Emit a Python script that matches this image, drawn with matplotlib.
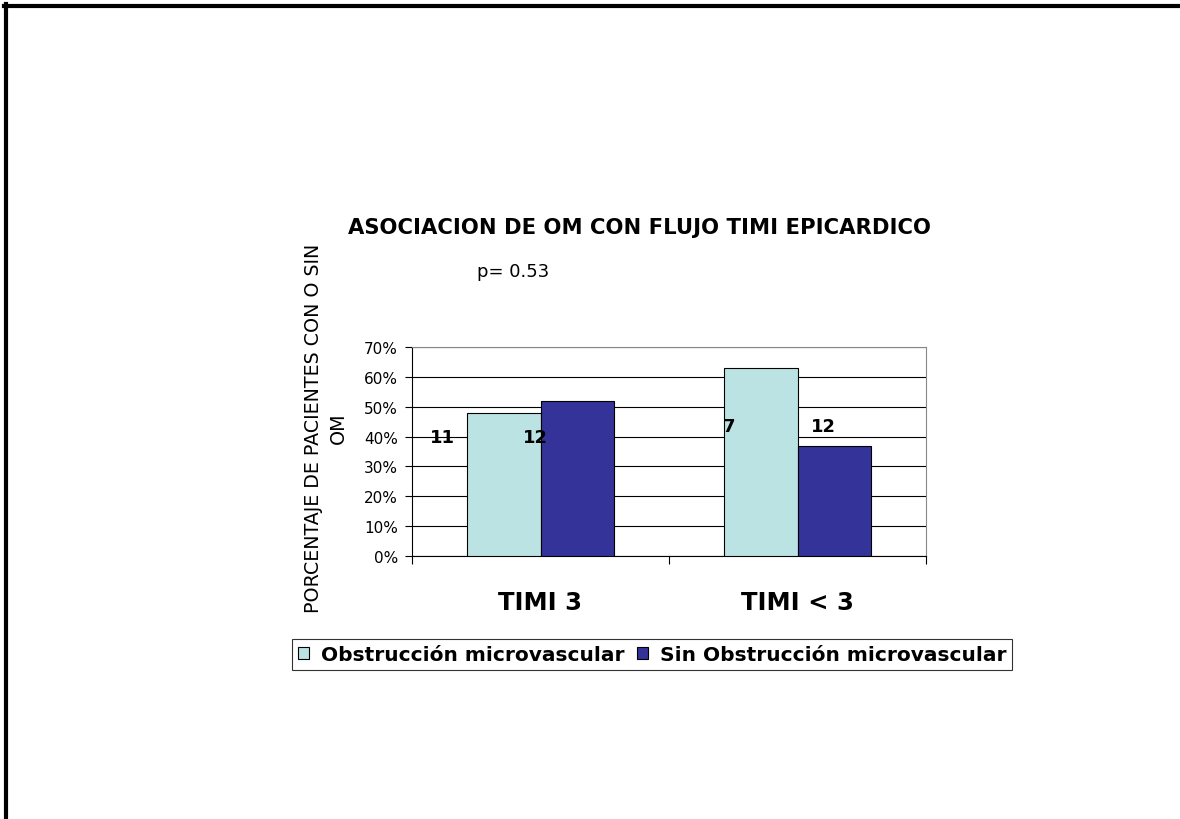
import matplotlib
matplotlib.use("Agg")
import matplotlib.pyplot as plt
from matplotlib.lines import Line2D
from matplotlib.patches import Patch
import numpy as np

plt.rcParams['font.family'] = ['DejaVu Sans']

categories = ["TIMI 3", "TIMI < 3"]
series_names = ["Obstrucción microvascular", "Sin Obstrucción microvascular"]
om_pct = [48, 63]
sin_om_pct = [52, 37]
om_counts = ["11", "7"]
sin_om_counts = ["12", "12"]
yticks = [0, 10, 20, 30, 40, 50, 60, 70]

light = "#BBE3E3"
dark = "#333399"

W, H = 1180, 820
fig = plt.figure(figsize=(W / 100, H / 100), dpi=100, facecolor="white")


def fx(px):
    return px / W


def fy(py):
    return 1 - py / H


# page border (top and left only, rest is cropped)
fig.add_artist(Line2D([fx(4), fx(1180)], [fy(7), fy(7)], color="black", lw=3.0))
fig.add_artist(Line2D([fx(6), fx(6)], [fy(5), fy(820)], color="black", lw=3.0))

ax = fig.add_axes([fx(412), fy(557), fx(926) - fx(412), fy(348) - fy(557)])

x = np.arange(len(categories))
bw = 1 / 3.5
ax.bar(x - bw / 2, om_pct, bw, color=light, edgecolor="black", linewidth=0.8, zorder=3)
ax.bar(x + bw / 2, sin_om_pct, bw, color=dark, edgecolor="black", linewidth=0.8, zorder=3)

ax.set_xlim(-0.5, 1.5)
ax.set_ylim(0, 70)
ax.set_yticks(yticks)
ax.set_yticklabels([f"{v}%" for v in yticks], fontsize=11)
ax.yaxis.grid(True, color="black", linewidth=0.8, zorder=0)
ax.tick_params(axis="y", direction="out", length=5, width=0.8, pad=5)

ax.set_xticks([-0.5, 0.5, 1.5])
ax.set_xticklabels([])
ax.tick_params(axis="x", direction="out", length=6, width=0.8)
for i, c in enumerate(categories):
    ax.text(x[i], -15.5, c, ha="center", va="center", fontsize=17.5, fontweight="bold")

for s in ["top", "right"]:
    ax.spines[s].set_visible(True)
    ax.spines[s].set_color("#888888")
    ax.spines[s].set_linewidth(0.8)
ax.spines["left"].set_linewidth(0.8)
ax.spines["bottom"].set_linewidth(0.8)

# data labels (placed as in the original)
ax.text(x[0] - bw / 2 - 0.24, 40, om_counts[0], ha="center", va="center", fontsize=13, fontweight="bold", zorder=5)
ax.text(x[0] - 0.02, 40, sin_om_counts[0], ha="center", va="center", fontsize=13, fontweight="bold", zorder=5)
ax.text(x[1] - bw + 0.02, 43.5, om_counts[1], ha="center", va="center", fontsize=13, fontweight="bold", zorder=5)
ax.text(x[1] + 0.1, 43.5, sin_om_counts[1], ha="center", va="center", fontsize=13, fontweight="bold", zorder=5)

fig.text(fx(640), fy(228), "ASOCIACION DE OM CON FLUJO TIMI EPICARDICO", ha="center", va="center",
         fontsize=15.2, fontweight="bold")
fig.text(fx(477), fy(272), "p= 0.53", ha="left", va="center", fontsize=13)
fig.text(fx(326), fy(428), "PORCENTAJE DE PACIENTES CON O SIN\nOM", ha="center", va="center",
         rotation=90, fontsize=13.7, linespacing=1.42)

handles = [Patch(facecolor=light, edgecolor="black", linewidth=0.8),
           Patch(facecolor=dark, edgecolor="black", linewidth=0.8)]
leg = fig.legend(handles, series_names, loc="center", bbox_to_anchor=(fx(652), fy(655.5)), ncol=2,
                 frameon=True, fancybox=False, edgecolor="black",
                 prop={"weight": "bold", "size": 14.5}, handlelength=0.55, handleheight=0.55,
                 handletextpad=0.6, columnspacing=0.6, borderpad=0.3, borderaxespad=0)
leg.get_frame().set_linewidth(0.8)

fig.savefig("out.png", dpi=100, facecolor="white")
